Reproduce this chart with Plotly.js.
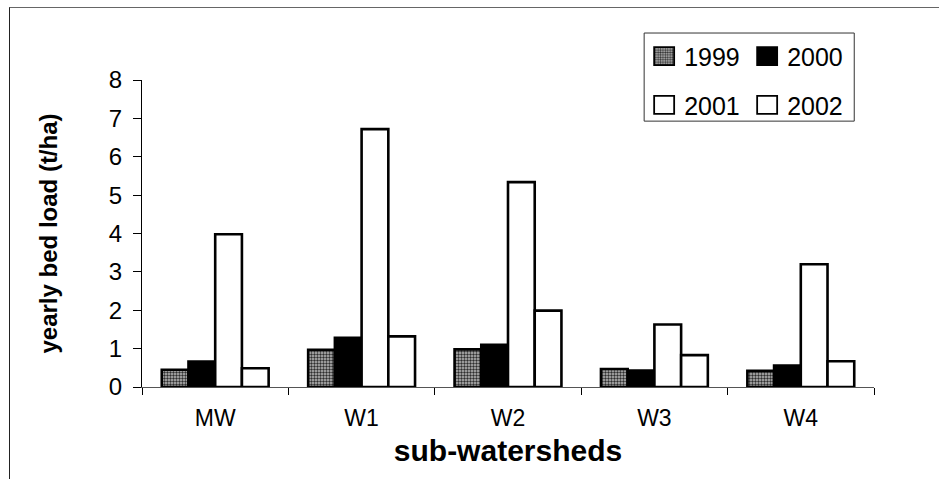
<!DOCTYPE html>
<html>
<head>
<meta charset="utf-8">
<script src="https://cdn.plot.ly/plotly-3.0.1.min.js"></script>
<style>
  html, body { margin: 0; padding: 0; background: #fff; }
  #wrap { position: relative; width: 939px; height: 479px; }
  #chart { width: 939px; height: 479px; }
  #frame { position: absolute; left: 9px; top: 7px; right: 0; bottom: 0;
           border-top: 1px solid #666; border-left: 1px solid #222; pointer-events: none; }
</style>
</head>
<body>
<div id="wrap">
  <div id="chart"></div>
  <div id="frame"></div>
</div>
<script>
// Sub-watersheds and yearly bed load (t/ha) per year
const categories = ['MW', 'W1', 'W2', 'W3', 'W4'];
const years = ['1999', '2000', '2001', '2002'];
const load1999 = [0.45, 0.97, 0.98, 0.47, 0.42];
const load2000 = [0.66, 1.28, 1.10, 0.43, 0.56];
const load2001 = [3.98, 6.72, 5.34, 1.63, 3.20];
const load2002 = [0.49, 1.32, 1.99, 0.83, 0.67];
const yTicks = [0, 1, 2, 3, 4, 5, 6, 7, 8];

const FONT = 'Liberation Sans, Arial, sans-serif';
const outline = { color: '#000', width: 2.6 };

const series = [
  { y: load1999, marker: { color: '#8c8c8c', line: outline,
      pattern: { shape: '.', fgcolor: '#2e2e2e', bgcolor: '#bdbdbd', size: 3, solidity: 0.5 } },
    legend: 'legend' },
  { y: load2000, marker: { color: '#000', line: outline }, legend: 'legend' },
  { y: load2001, marker: { color: '#fff', line: outline }, legend: 'legend2' },
  { y: load2002, marker: { color: '#fff', line: outline }, legend: 'legend2' }
];

const traces = series.map((s, i) => ({
  type: 'bar',
  name: years[i],
  x: categories,
  y: s.y,
  marker: s.marker,
  legend: s.legend,
  hoverinfo: 'x+y+name'
}));

const legendBase = {
  orientation: 'h',
  font: { family: FONT, size: 25, color: '#000' },
  bgcolor: 'rgba(0,0,0,0)',
  borderwidth: 0,
  xanchor: 'left',
  yanchor: 'middle',
  entrywidth: 58,
  entrywidthmode: 'pixels',
  itemclick: false,
  itemdoubleclick: false
};

const layout = {
  width: 939,
  height: 479,
  margin: { l: 142, r: 65, t: 80, b: 92 },
  paper_bgcolor: '#fff',
  plot_bgcolor: '#fff',
  font: { family: FONT, color: '#000' },
  barmode: 'group',
  bargap: 0.27,
  bargroupgap: 0,
  showlegend: true,
  legend: Object.assign({}, legendBase, { x: 0.686, y: 1.077 }),
  legend2: Object.assign({}, legendBase, { x: 0.686, y: 0.918 }),
  shapes: [{
    type: 'rect', xref: 'paper', yref: 'paper',
    x0: 0.686, x1: 0.973, y0: 0.866, y1: 1.153,
    line: { color: '#333', width: 1 }, fillcolor: 'rgba(0,0,0,0)'
  }],
  xaxis: {
    type: 'category',
    tickson: 'boundaries',
    ticks: 'outside',
    ticklen: 7,
    tickcolor: '#000',
    tickwidth: 1,
    ticklabelstandoff: 10,
    showline: true,
    linecolor: '#555',
    linewidth: 1,
    showgrid: false,
    tickfont: { family: FONT, size: 23, color: '#000' },
    title: { text: 'sub-watersheds', font: { family: FONT, size: 30, color: '#000', weight: 'bold' }, standoff: 10 },
    automargin: false
  },
  yaxis: {
    range: [0, 8],
    tickvals: yTicks,
    ticktext: yTicks.map(String),
    ticks: 'outside',
    ticklen: 8,
    tickcolor: '#000',
    tickwidth: 1,
    ticklabelstandoff: 6,
    showline: true,
    linecolor: '#000',
    linewidth: 1,
    showgrid: false,
    zeroline: false,
    tickfont: { family: FONT, size: 24, color: '#000' },
    title: { text: 'yearly bed load (t/ha)', font: { family: FONT, size: 24, color: '#000', weight: 'bold' }, standoff: 44 },
    automargin: false
  }
};

Plotly.newPlot('chart', traces, layout, { displayModeBar: false, staticPlot: true }).then(() => {
  // Larger legend swatches, closer to the printed key size
  document.querySelectorAll('.legendpoints path').forEach(p => {
    p.setAttribute('d', 'M10,9H-10V-9H10Z');
    p.style.strokeWidth = '1.8px';
  });
});
</script>
</body>
</html>
